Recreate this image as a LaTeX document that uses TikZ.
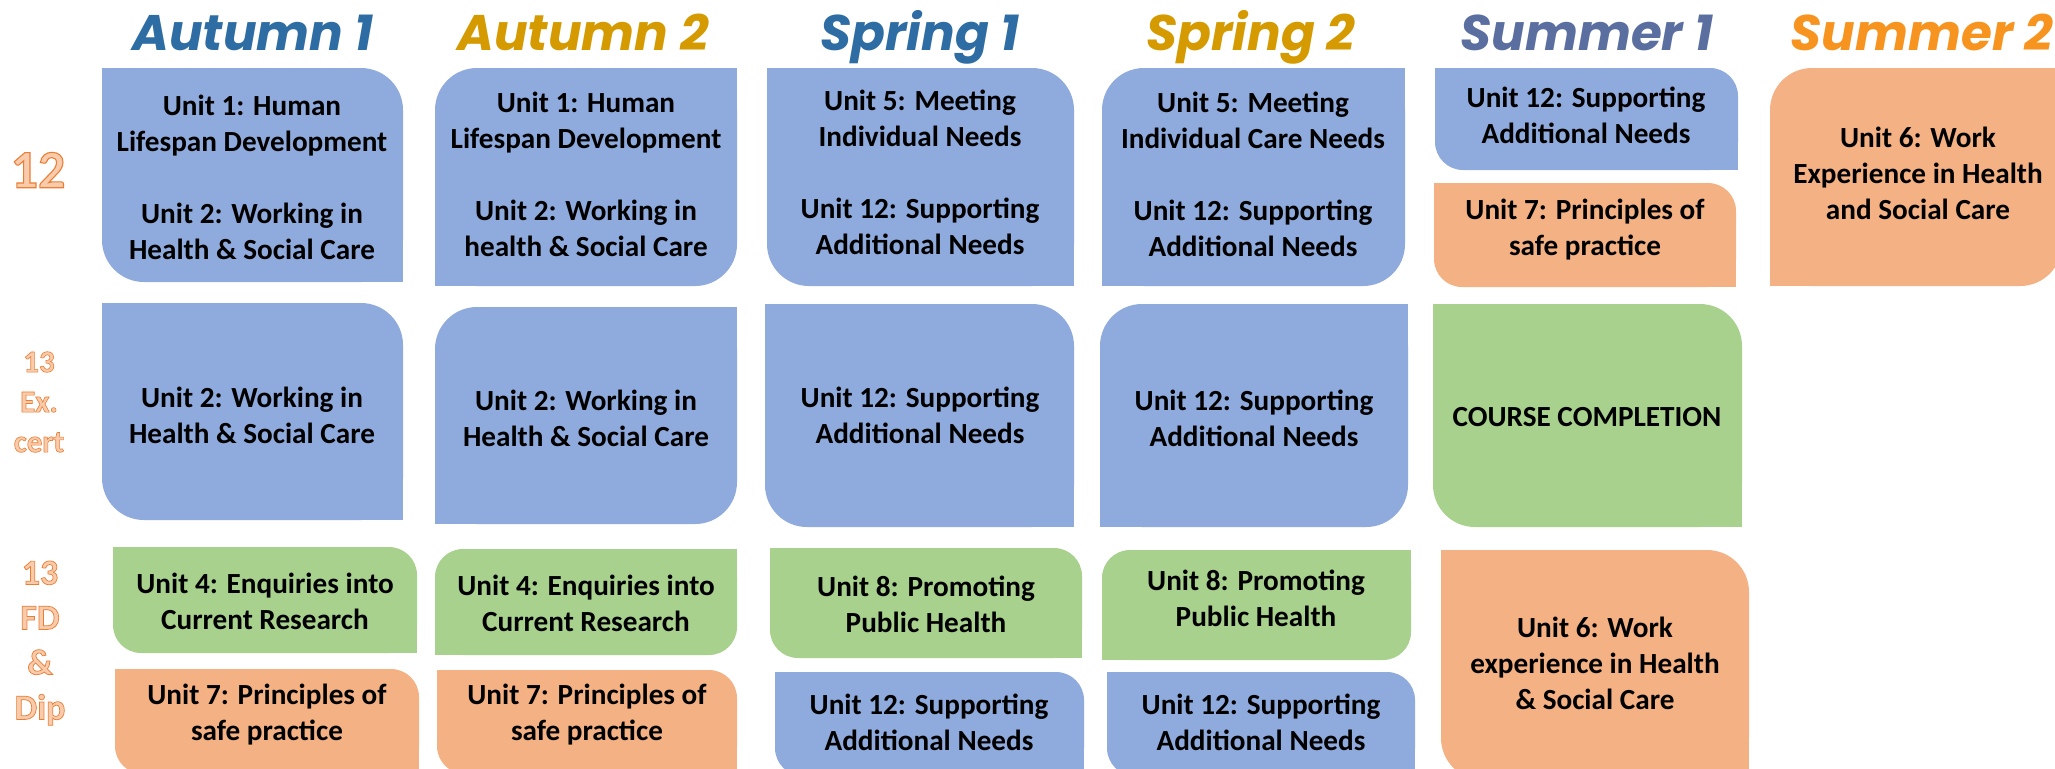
\documentclass[tikz,border=0pt]{standalone}
\usepackage{fontspec}
\setmainfont{Carlito}
\newfontfamily\hdrfont{Poppins}
\newfontfamily\lblfont{Carlito}[BoldFeatures={FakeBold=2}]
\definecolor{ubl}{HTML}{8FAADC}
\definecolor{uor}{HTML}{F4B183}
\definecolor{ugr}{HTML}{A9D18E}
\definecolor{hblue}{HTML}{2E6DA4}
\definecolor{hgold}{HTML}{D49A00}
\definecolor{hslate}{HTML}{5A6FA0}
\definecolor{horange}{HTML}{F79420}
\definecolor{lblfill}{HTML}{F8CBAD}
% outlined label text: light fill, orange stroke
\newcommand{\olt}[1]{{\color{lblfill}\special{pdf:literal direct 0.929 0.490 0.192 RG}#1}}
% x1 y1 x2 y2 colour type(A/B) radius(pt)
\newcommand{\rbox}[7]{%
  \fill[#5, rounded corners=#7pt] (#1,#2) rectangle (#3,#4);
  \ifx A#6
    \fill[#5] (#1,#2) rectangle ({#1+2*#7},{#2+2*#7});
    \fill[#5] ({#3-2*#7},{#4-2*#7}) rectangle (#3,#4);
  \else
    \fill[#5] ({#3-2*#7},#2) rectangle (#3,{#2+2*#7});
    \fill[#5] (#1,{#4-2*#7}) rectangle ({#1+2*#7},#4);
  \fi}
\tikzset{
  utext/.style={align=center, inner sep=0pt, font=\fontsize{14.6}{18}\selectfont\bfseries},
  hdr/.style={anchor=base, inner sep=0pt, font=\hdrfont\fontsize{25}{30}\selectfont\bfseries\itshape},
  lbl/.style={align=center, inner sep=0pt}
}
\begin{document}
\begin{tikzpicture}[x=0.5pt,y=-0.5pt]
\clip (0,0) rectangle (2055,768);
\fill[white] (0,0) rectangle (2055,768);
% headers
\node[hdr, text=hblue]   (h1) at (253,50)  {Autumn 1};
\node[hdr, text=hgold]   (h2) at (583,50)  {Autumn 2};
\node[hdr, text=hblue]   (h3) at (920,50)  {Spring 1};
\node[hdr, text=hgold]   (h4) at (1251,50) {Spring 2};
\node[hdr, text=hslate]  (h5) at (1587,50) {Summer 1};
\node[hdr, text=horange] (h6) at (1922,50) {Summer 2};
% row labels
\node[lbl, font=\lblfont\fontsize{27}{32}\selectfont\bfseries] (l1) at (38,170) {\olt{12}};
\node[lbl, font=\lblfont\fontsize{15.5}{20}\selectfont\bfseries] (l2) at (39,402) {\olt{13}\\\olt{Ex.}\\\olt{cert}};
\node[lbl, font=\lblfont\fontsize{18}{22.5}\selectfont\bfseries] (l3) at (40,643) {\olt{13}\\\olt{FD}\\\olt{\&}\\\olt{Dip}};
% row 1 (Year 12)
\rbox{102}{68}{403}{282}{ubl}{A}{21}
\rbox{435}{68}{737}{286}{ubl}{B}{21}
\rbox{767}{68}{1074}{286}{ubl}{A}{21}
\rbox{1102}{68}{1405}{286}{ubl}{B}{21}
\rbox{1435}{68}{1738}{170}{ubl}{A}{14}
\rbox{1434}{183}{1736}{287}{uor}{A}{14}
\rbox{1770}{68}{2062}{286}{uor}{B}{21}
% row 2 (13 Ex. cert)
\rbox{102}{303}{403}{520}{ubl}{A}{21}
\rbox{435}{307}{737}{524}{ubl}{B}{21}
\rbox{765}{304}{1074}{527}{ubl}{A}{21}
\rbox{1100}{304}{1408}{527}{ubl}{B}{21}
\rbox{1433}{304}{1742}{527}{ugr}{A}{21}
% row 3 (13 FD & Dip)
\rbox{113}{547}{417}{653}{ugr}{A}{14}
\rbox{435}{549}{737}{655}{ugr}{B}{14}
\rbox{770}{548}{1082}{658}{ugr}{A}{14}
\rbox{1102}{550}{1411}{660}{ugr}{B}{14}
\rbox{115}{669}{419}{774}{uor}{A}{14}
\rbox{437}{670}{737}{774}{uor}{A}{14}
\rbox{775}{672}{1084}{776}{ubl}{A}{14}
\rbox{1107}{672}{1415}{776}{ubl}{A}{14}
\rbox{1441}{550}{1749}{780}{uor}{A}{21}
% texts row 1
\node[utext] (t11) at (252,177) {Unit 1: Human\\Lifespan Development\\[18pt]Unit 2: Working in\\Health \& Social Care};
\node[utext] (t12) at (586,174) {Unit 1: Human\\Lifespan Development\\[18pt]Unit 2: Working in\\health \& Social Care};
\node[utext] (t13) at (920,172) {Unit 5: Meeting\\Individual Needs\\[18pt]Unit 12: Supporting\\Additional Needs};
\node[utext] (t14) at (1253,174) {Unit 5: Meeting\\Individual Care Needs\\[18pt]Unit 12: Supporting\\Additional Needs};
\node[utext] (t15) at (1586,115) {Unit 12: Supporting\\Additional Needs};
\node[utext] (t16) at (1585,230) {Unit 7: Principles of\\safe practice};
\node[utext] (t17) at (1918,173) {Unit 6: Work\\Experience in Health\\and Social Care};
% texts row 2
\node[utext] (t21) at (252,415) {Unit 2: Working in\\Health \& Social Care};
\node[utext] (t22) at (586,418) {Unit 2: Working in\\Health \& Social Care};
\node[utext] (t23) at (920,415) {Unit 12: Supporting\\Additional Needs};
\node[utext] (t24) at (1254,418) {Unit 12: Supporting\\Additional Needs};
\node[utext] (t25) at (1587,417) {COURSE COMPLETION};
% texts row 3
\node[utext] (t31) at (265,601) {Unit 4: Enquiries into\\Current Research};
\node[utext] (t32) at (586,603) {Unit 4: Enquiries into\\Current Research};
\node[utext] (t33) at (926,604) {Unit 8: Promoting\\Public Health};
\node[utext] (t34) at (1256,598) {Unit 8: Promoting\\Public Health};
\node[utext] (t35) at (267,715) {Unit 7: Principles of\\safe practice};
\node[utext] (t36) at (587,715) {Unit 7: Principles of\\safe practice};
\node[utext] (t37) at (929,722) {Unit 12: Supporting\\Additional Needs};
\node[utext] (t38) at (1261,722) {Unit 12: Supporting\\Additional Needs};
\node[utext] (t39) at (1595,663) {Unit 6: Work\\experience in Health\\\& Social Care};
\end{tikzpicture}
\end{document}
